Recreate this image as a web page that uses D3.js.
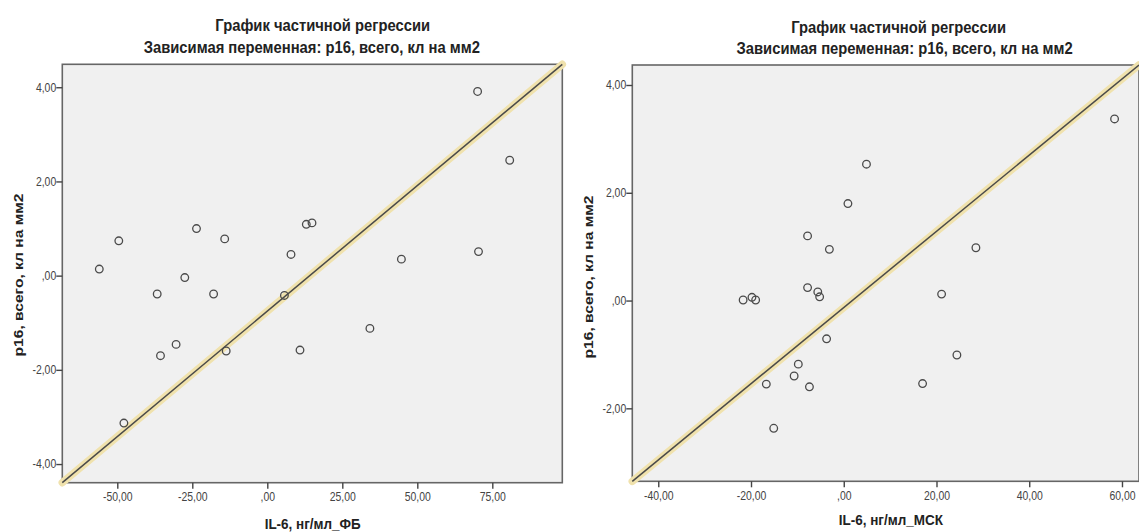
<!DOCTYPE html>
<html lang="ru">
<head>
<meta charset="UTF-8">
<title>График частичной регрессии</title>
<script src="https://d3js.org/d3.v7.min.js"></script>
<style>
  body { margin: 0; background: #fff; }
  .tick text { font-family: "Liberation Sans", Arial, sans-serif; font-size: 12px; fill: #444; }
  .ttl { font-family: "Liberation Sans", Arial, sans-serif; font-weight: bold; fill: #222; }
  .ytitle { font-family: "Liberation Sans", Arial, sans-serif; font-weight: bold; font-size: 13px; fill: #222; }
</style>
</head>
<body>
<svg class="svgs" width="1139" height="532"></svg>
<script>
// left panel: IL-6, нг/мл_ФБ
const leftX = [70.1, 80.8, -49.5, -23.6, -14.2, 13.0, 14.9, 7.9, 44.7, 70.4, -56.0,
               -27.5, -36.7, -17.9, 5.7, 34.2, -30.4, -35.6, -13.7, 10.9, -47.8];
const leftY = [3.91, 2.45, 0.74, 1.00, 0.78, 1.09, 1.12, 0.45, 0.35, 0.51, 0.14,
               -0.04, -0.39, -0.39, -0.42, -1.12, -1.46, -1.70, -1.60, -1.58, -3.13];
const leftXTicks = [-50, -25, 0, 25, 50, 75];
const leftYTicks = [4, 2, 0, -2, -4];
const leftFit = { slope: 0.0533, intercept: -0.754 };

// right panel: IL-6, нг/мл_МСК
const rightX = [58.4, 4.9, 0.9, -7.8, -3.1, 28.5, -21.7, -19.8, -19.0, -7.8, -5.6,
                -5.2, 21.1, -3.7, 24.4, -9.8, -10.7, -16.7, -7.4, 17.0, -15.1];
const rightY = [3.37, 2.53, 1.80, 1.20, 0.95, 0.98, 0.01, 0.06, 0.01, 0.24, 0.16,
                0.07, 0.12, -0.71, -1.01, -1.18, -1.40, -1.55, -1.60, -1.54, -2.37];
const rightXTicks = [-40, -20, 0, 20, 40, 60];
const rightYTicks = [4, 2, 0, -2];
const rightFit = { slope: 0.0707, intercept: -0.130 };

const titleLine1 = 'График частичной регрессии';
const titleLine2 = 'Зависимая переменная: p16, всего, кл на мм2';
const yTitle = 'p16, всего, кл на мм2';

const svg = d3.select('.svgs');

// the source image is squeezed sideways, so text is condensed horizontally
const squeeze = 0.87;

// SPSS style numbers: comma decimal, no leading zero
const fmt = v => {
    let s = d3.format('.2f')(Math.abs(v)).replace('.', ',');
    if (s.startsWith('0')) s = s.slice(1);
    return (v < 0 ? '-' : '') + s;
};

const panels = [
    { xs: leftX, ys: leftY, xTicks: leftXTicks, yTicks: leftYTicks, fit: leftFit,
      xDomain: [-68.33, 98.33], yDomain: [-4.396, 4.487],
      box: { left: 62.3, top: 64.3, right: 562.3, bottom: 482.7 },
      xTitle: 'IL-6, нг/мл_ФБ', xTitlePos: [312.7, 529],
      t1: [322.7, 31], t2: [311.8, 53], yTitlePos: [23, 275] },
    { xs: rightX, ys: rightY, xTicks: rightXTicks, yTicks: rightYTicks, fit: rightFit,
      xDomain: [-45.6, 63.67], yDomain: [-3.354, 4.371],
      box: { left: 632.3, top: 65, right: 1139, bottom: 481.3 },
      xTitle: 'IL-6, нг/мл_МСК', xTitlePos: [890.8, 525],
      t1: [898.6, 33], t2: [904.6, 54], yTitlePos: [593, 277] }
];

// centred text, squeezed around its own anchor
function squeezedText(g, cls, size, pos, txt) {
    g.append('text').attr('class', cls).attr('font-size', size)
        .attr('transform', `translate(${pos[0]},${pos[1]}) scale(${squeeze},1)`)
        .attr('text-anchor', 'middle').text(txt);
}

panels.forEach(p => {
    const b = p.box;
    const x = d3.scaleLinear().domain(p.xDomain).range([b.left, b.right]);
    const y = d3.scaleLinear().domain(p.yDomain).range([b.bottom, b.top]);
    const g = svg.append('g');

    g.append('rect')
        .attr('x', b.left).attr('y', b.top)
        .attr('width', b.right - b.left).attr('height', b.bottom - b.top)
        .attr('fill', '#f0f0f0')
        .attr('stroke', '#666').attr('stroke-width', 1.6);

    const xAxis = g.append('g')
        .attr('transform', `translate(0,${b.bottom})`)
        .call(d3.axisBottom(x).tickValues(p.xTicks).tickFormat(fmt).tickSize(6).tickPadding(4));
    const yAxis = g.append('g')
        .attr('transform', `translate(${b.left},0)`)
        .call(d3.axisLeft(y).tickValues(p.yTicks).tickFormat(fmt).tickSize(6).tickPadding(1));
    [xAxis, yAxis].forEach(a => {
        a.select('.domain').remove();
        a.selectAll('.tick line').attr('stroke', '#444').attr('stroke-width', 1.4);
        a.selectAll('.tick text').attr('transform', `scale(${squeeze},1)`);
    });

    // fit line with yellow halo, corner to corner of the data range
    const x0 = p.xDomain[0], x1 = p.xDomain[1];
    const fitPts = [[x0, p.fit.intercept + p.fit.slope * x0], [x1, p.fit.intercept + p.fit.slope * x1]];
    const line = d3.line().x(d => x(d[0])).y(d => y(d[1]));
    g.append('path').attr('d', line(fitPts))
        .attr('stroke', '#f0e2ad').attr('stroke-width', 7.5)
        .attr('stroke-linecap', 'round').attr('fill', 'none');
    g.append('path').attr('d', line(fitPts))
        .attr('stroke', '#4a4a4a').attr('stroke-width', 1.5).attr('fill', 'none');

    g.selectAll('circle.pt')
        .data(p.xs.map((v, i) => [v, p.ys[i]]))
        .join('circle')
        .attr('class', 'pt')
        .attr('cx', d => x(d[0])).attr('cy', d => y(d[1]))
        .attr('r', 3.8)
        .attr('fill', 'none').attr('stroke', '#4a4a4a').attr('stroke-width', 1.3);

    squeezedText(g, 'ttl', 17, p.t1, titleLine1);
    squeezedText(g, 'ttl', 17, p.t2, titleLine2);
    squeezedText(g, 'ttl', 15.5, p.xTitlePos, p.xTitle);

    // rotated, so the squeeze shows up as a longer title
    g.append('text').attr('class', 'ytitle')
        .attr('transform', `translate(${p.yTitlePos[0]},${p.yTitlePos[1]}) rotate(-90) scale(1.2,1)`)
        .attr('text-anchor', 'middle').text(yTitle);
});
</script>
</body>
</html>
